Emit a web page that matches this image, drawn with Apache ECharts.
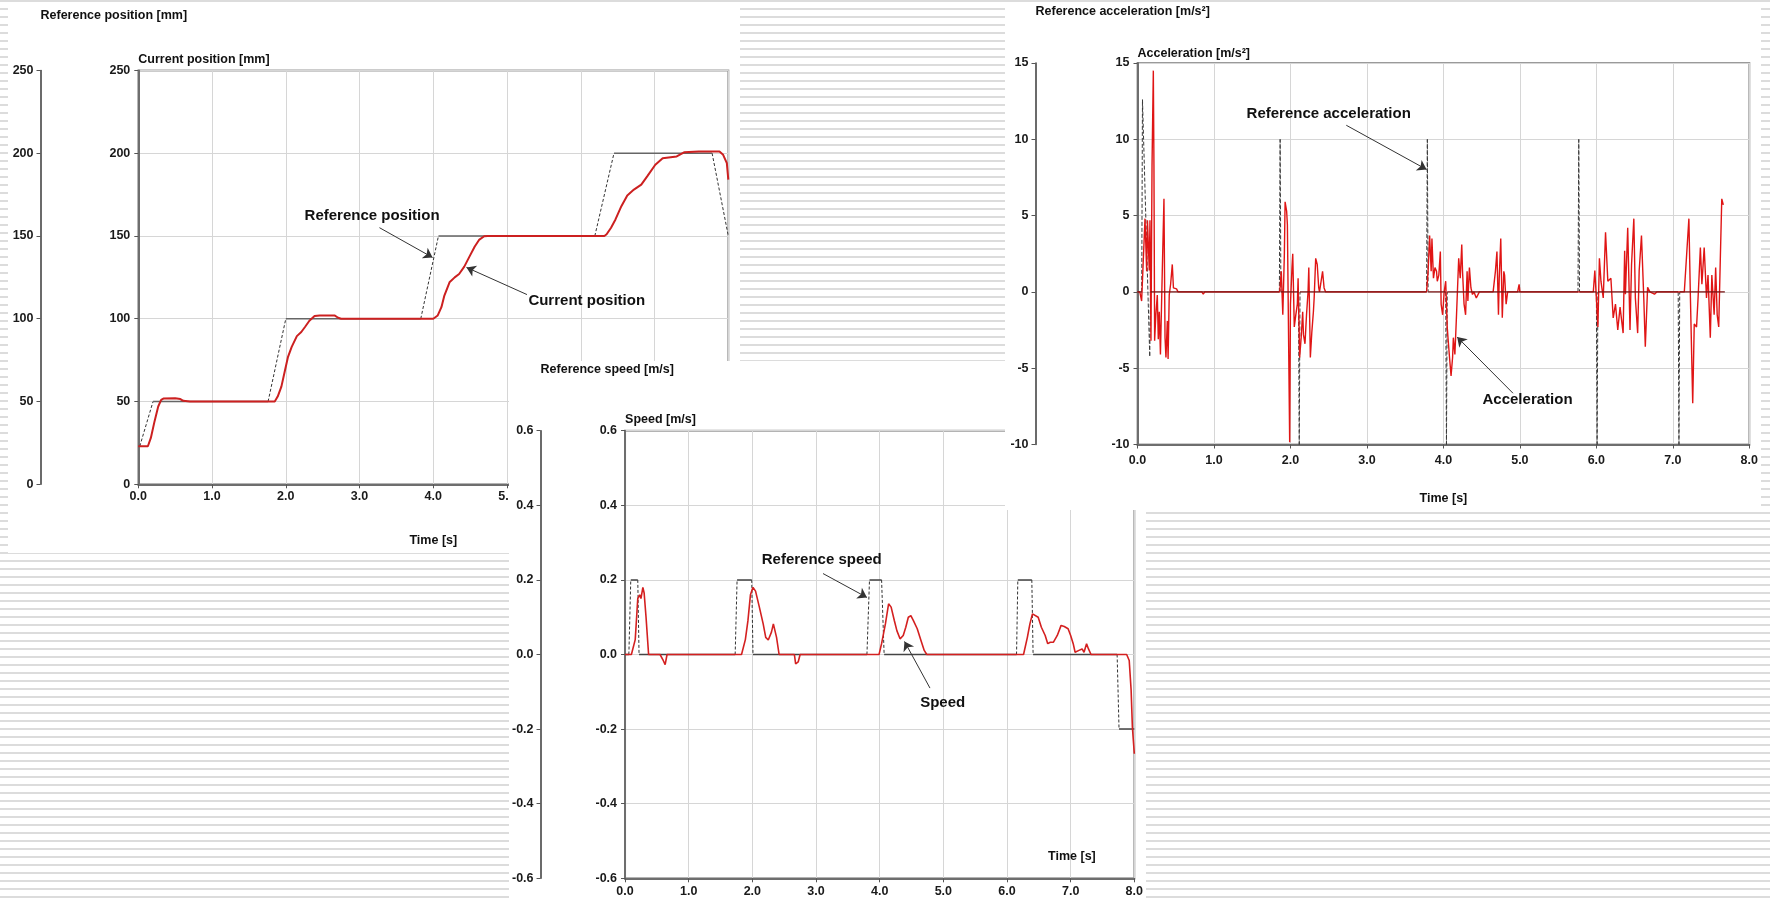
<!DOCTYPE html>
<html>
<head>
<meta charset="utf-8">
<title>Position, speed and acceleration</title>
<script src="https://cdn.jsdelivr.net/npm/echarts@6/dist/echarts.min.js"></script>
<style>
  html, body { margin: 0; padding: 0; }
  body {
    width: 1770px; height: 901px; position: relative; overflow: hidden;
    background: repeating-linear-gradient(to bottom, #dcdcdc 0px, #dcdcdc 2px, #fff 2px, #fff 8px);
  }
  .panel { position: absolute; background: #fff; }
  #pos { left: 8px; top: 2px; width: 732px; height: 551px; z-index: 1; }
  #spd { left: 509px; top: 361px; width: 637px; height: 540px; z-index: 2; }
  #acc { left: 1005px; top: 2px; width: 756px; height: 508px; z-index: 3; }
</style>
</head>
<body>
<div class="panel" id="pos"></div>
<div class="panel" id="spd"></div>
<div class="panel" id="acc"></div>
<script>
// ---- data: [time s, value] ----
const posReference = [[0, 23], [0.02, 23], [0.2, 50], [1.76, 50], [2.0, 100], [3.83, 100], [4.07, 150],
  [6.19, 150], [6.45, 200], [7.78, 200], [8.0, 150]];
const posCurrent = [[0, 23], [0.13, 23], [0.17, 28], [0.22, 38], [0.27, 47], [0.31, 51], [0.34, 51.8], [0.5, 52],
  [0.57, 51.5], [0.61, 50.4], [0.7, 50], [1.85, 50], [1.89, 53], [1.94, 59], [1.99, 69], [2.03, 77], [2.08, 83],
  [2.15, 89.5], [2.21, 92], [2.26, 95], [2.32, 98.8], [2.39, 101.6], [2.46, 102], [2.66, 102], [2.71, 100.6],
  [2.75, 100], [4.0, 100], [4.06, 102], [4.11, 107], [4.15, 114], [4.22, 122], [4.29, 125], [4.35, 127],
  [4.42, 131.5], [4.49, 137.5], [4.56, 143.5], [4.62, 147.6], [4.69, 149.8], [4.74, 150], [6.32, 150],
  [6.35, 151], [6.41, 155], [6.47, 160], [6.55, 168], [6.63, 174.5], [6.72, 178], [6.82, 181], [6.9, 186],
  [7.01, 193], [7.11, 197], [7.3, 198], [7.4, 200.5], [7.6, 201], [7.88, 201], [7.93, 199], [7.98, 194], [8.0, 184]];

const speedReference = [[0, 0], [0.06, 0], [0.09, 0.2], [0.2, 0.2], [0.22, 0], [1.73, 0], [1.76, 0.2], [1.99, 0.2],
  [2.01, 0], [3.8, 0], [3.84, 0.2], [4.03, 0.2], [4.07, 0], [6.15, 0], [6.17, 0.2], [6.39, 0.2], [6.41, 0],
  [7.73, 0], [7.76, -0.2], [8.0, -0.2]];
const speedCurrent = [[0, 0], [0.1, 0], [0.16, 0.04], [0.2, 0.15], [0.23, 0.16], [0.25, 0.15], [0.28, 0.18],
  [0.3, 0.165], [0.33, 0.1], [0.37, 0], [0.55, 0], [0.6, -0.016], [0.63, -0.027], [0.66, 0], [1.83, 0],
  [1.89, 0.04], [1.93, 0.09], [1.97, 0.16], [2.01, 0.18], [2.05, 0.17], [2.11, 0.127], [2.17, 0.082],
  [2.21, 0.046], [2.25, 0.039], [2.3, 0.06], [2.33, 0.082], [2.38, 0.046], [2.42, 0], [2.66, 0], [2.68, -0.025],
  [2.72, -0.02], [2.75, 0], [3.99, 0], [4.03, 0.029], [4.09, 0.082], [4.14, 0.136], [4.18, 0.127], [4.23, 0.091],
  [4.27, 0.064], [4.32, 0.042], [4.37, 0.051], [4.41, 0.073], [4.45, 0.1], [4.49, 0.104], [4.53, 0.091],
  [4.59, 0.069], [4.65, 0.037], [4.7, 0.011], [4.74, 0], [4.83, 0], [4.85, 0.004], [4.87, 0], [6.26, 0],
  [6.32, 0.046], [6.36, 0.082], [6.4, 0.109], [6.43, 0.113], [6.49, 0.1], [6.54, 0.073], [6.6, 0.051],
  [6.64, 0.029], [6.68, 0.033], [6.73, 0.033], [6.79, 0.051], [6.85, 0.078], [6.9, 0.075], [6.96, 0.069],
  [7.0, 0.051], [7.04, 0.029], [7.07, 0.006], [7.13, 0.011], [7.18, 0.015], [7.21, 0.006], [7.25, 0.029],
  [7.28, 0.015], [7.32, 0], [7.88, 0], [7.92, -0.016], [7.95, -0.096], [7.97, -0.195], [8.0, -0.266]];

const accReference = [[0, 0], [0.055, 0], [0.065, 12.6], [0.16, -4.2], [0.17, 0],
  [1.855, 0], [1.865, 10], [1.875, 0], [2.105, 0], [2.115, -10], [2.125, 0], [3.78, 0], [3.79, 10], [3.8, 0],
  [4.03, 0], [4.04, -10], [4.05, 0], [5.76, 0], [5.77, 10], [5.78, 0], [6.0, 0], [6.01, -10], [6.02, 0],
  [7.07, 0], [7.08, -10], [7.09, 0], [7.68, 0]];
const accCurrent = [[0, 0], [0.03, 0], [0.054, -0.6], [0.076, -0.6], [0.098, 4.8], [0.12, 1.35], [0.13, 4.7],
  [0.154, 1.4], [0.163, 4.7], [0.176, -3.2], [0.19, 8.3], [0.207, 14.5], [0.215, 8.3], [0.224, -3.2],
  [0.24, -1.5], [0.259, -0.2], [0.272, -3.1], [0.285, -1.3], [0.3, -4.1], [0.324, 1.35], [0.346, 6.1],
  [0.36, -3], [0.372, -4.3], [0.39, -1.9], [0.4, -4.4], [0.415, -0.2], [0.433, 0.5], [0.455, 1.8], [0.47, 0.26],
  [0.49, 0.15], [0.51, 0.2], [0.53, 0], [0.84, 0], [0.86, -0.15], [0.88, 0],
  [1.86, 0], [1.88, 1.35], [1.9, -1.5], [1.92, 2.4], [1.93, 5.9], [1.95, 5.3], [1.96, 4.4], [1.98, -5.2],
  [1.99, -9.85], [2.0, -0.8], [2.02, 1.6], [2.03, 2.5], [2.05, -2.3], [2.07, -1.5], [2.09, -0.8], [2.1, 0.9],
  [2.12, -4.3], [2.14, -3.0], [2.16, -1.3], [2.17, -2.8], [2.19, -3.4], [2.21, -1.5], [2.23, 0], [2.24, 1.6],
  [2.26, -4.3], [2.28, -2.6], [2.3, -1.3], [2.31, -0.4], [2.33, 2.2], [2.35, 1.8], [2.37, 0.26], [2.38, 0],
  [2.42, 1.35], [2.44, 0.26], [2.46, 0],
  [3.78, 0], [3.8, 1.35], [3.82, 3.7], [3.84, 1.35], [3.85, 3.5], [3.87, 0.9], [3.89, 1.6], [3.91, 1.35],
  [3.92, 0.7], [3.94, 1.1], [3.96, 2.65], [3.97, -0.8], [3.99, -1.5], [4.01, 0], [4.03, 0.7], [4.05, -2.3],
  [4.06, -3.0], [4.08, -4.3], [4.1, -5.5], [4.12, -4.3], [4.13, -3.0], [4.15, -4.1], [4.17, -1.7], [4.18, -0.4],
  [4.2, 2.2], [4.22, 0.9], [4.24, 3.1], [4.25, 1.35], [4.27, -0.8], [4.29, -1.5], [4.31, 1.35], [4.32, -0.6],
  [4.34, 1.6], [4.36, 0.26], [4.38, -0.17], [4.4, 0], [4.43, -0.4], [4.47, 0],
  [4.65, 0], [4.68, 1.35], [4.7, 2.65], [4.72, -1.5], [4.73, 0.9], [4.75, 3.5], [4.77, -1.7], [4.79, 1.35],
  [4.8, 1.1], [4.82, -0.8], [4.84, 0], [4.97, 0], [4.99, 0.5], [5.0, 0],
  [5.96, 0], [5.98, 1.4], [6.0, -0.4], [6.02, -2.3], [6.04, 2.2], [6.06, 0.7], [6.09, -0.4], [6.12, 3.9],
  [6.15, 0.7], [6.19, 0.9], [6.22, -1.7], [6.25, -0.8], [6.28, -2.5], [6.31, -1.0], [6.35, -2.7], [6.37, 2.7],
  [6.38, -0.15], [6.41, 4.2], [6.44, -2.5], [6.46, 1.8], [6.49, 4.8], [6.51, -0.4], [6.54, -2.7], [6.56, 1.4],
  [6.59, 3.7], [6.62, -0.4], [6.64, -3.6], [6.67, 0.3], [6.7, 0], [6.76, -0.15], [6.79, 0],
  [7.15, 0], [7.18, 2.4], [7.21, 4.8], [7.23, -0.4], [7.26, -7.3], [7.28, -2.1], [7.31, -2.3], [7.33, -0.4],
  [7.36, 2.9], [7.38, 0.5], [7.41, 2.9], [7.44, -0.4], [7.46, 1.1], [7.49, -3.0], [7.51, 1.1], [7.54, -1.5],
  [7.56, 1.6], [7.58, -1.5], [7.6, -2.3], [7.62, 2.0], [7.64, 6.1], [7.66, 5.7]];

// tick values of the axes: [min, max, step]
const timeTicks = [0, 8, 1];
const posTicks = [0, 250, 50];
const speedTicks = [-0.6, 0.6, 0.2];
const accTicks = [-10, 15, 5];

// annotations (text centre, arrow start -> arrow tip), in data units
const posNotes = [
  { text: "Reference position", at: [3.17, 162], from: [3.27, 155], to: [3.99, 137] },
  { text: "Current position", at: [6.08, 111], from: [5.27, 114.6], to: [4.45, 131] },
];
const speedNotes = [
  { text: "Reference speed", at: [3.09, 0.254], from: [3.11, 0.217], to: [3.8, 0.153] },
  { text: "Speed", at: [4.99, -0.129], from: [4.79, -0.09], to: [4.39, 0.035] },
];
const accNotes = [
  { text: "Reference acceleration", at: [2.5, 11.64], from: [2.73, 10.92], to: [3.78, 8.02] },
  { text: "Acceleration", at: [5.1, -7.07], from: [4.91, -6.64], to: [4.18, -2.96] },
];

const FONT = '"Liberation Sans", Arial, sans-serif';
const RED = "#d42020";

// split a reference curve into flat pieces (solid) and transitions (dashed)
function splitRef(pts) {
  const flat = [], ramp = [];
  for (let i = 0; i < pts.length - 1; i++) {
    const a = pts[i], b = pts[i + 1];
    const target = a[1] === b[1] ? flat : ramp;
    target.push(a, b, [b[0], "-"]);
  }
  return { flat, ramp };
}

function fmt(d) {
  return (v) => (d ? v.toFixed(d) : String(v));
}

const tickText = { fontFamily: FONT, fontWeight: "bold", fontSize: 12.5, color: "#1a1a1a" };

function xAxisOf(name, nameGap, labelMargin) {
  return {
    type: "value", min: timeTicks[0], max: timeTicks[1], interval: timeTicks[2],
    name: name, nameLocation: "middle", nameGap: nameGap,
    nameTextStyle: { fontFamily: FONT, fontWeight: "bold", fontSize: 12.5, color: "#111" },
    axisLine: { show: true, onZero: false, lineStyle: { color: "#6e6e6e", width: 2 } },
    axisTick: { show: true, length: 4, lineStyle: { color: "#555" } },
    axisLabel: Object.assign({ formatter: fmt(1), margin: labelMargin }, tickText),
    splitLine: { show: true, lineStyle: { color: "#d6d6d6", width: 1 } },
  };
}

function yAxesOf(ticks, digits, mainName, mainGap, refName, refGap, offset) {
  const base = {
    type: "value", min: ticks[0], max: ticks[1], interval: ticks[2], position: "left",
    nameLocation: "end",
    nameTextStyle: { fontFamily: FONT, fontWeight: "bold", fontSize: 12.5, color: "#111", align: "left", verticalAlign: "middle" },
    axisTick: { show: true, length: 4, lineStyle: { color: "#555" } },
  };
  return [
    Object.assign({}, base, {
      name: mainName, nameGap: mainGap,
      axisLine: { show: true, onZero: false, lineStyle: { color: "#6e6e6e", width: 2 } },
      axisLabel: Object.assign({ formatter: fmt(digits), margin: 8 }, tickText),
      splitLine: { show: true, lineStyle: { color: "#d6d6d6", width: 1 } },
    }),
    Object.assign({}, base, {
      name: refName, nameGap: refGap, offset: offset,
      axisLine: { show: true, onZero: false, lineStyle: { color: "#3a3a3a", width: 1.5 } },
      axisLabel: Object.assign({ formatter: fmt(digits), margin: 7 }, tickText),
      splitLine: { show: false },
    }),
  ];
}

function noteMarks(notes, size) {
  return {
    silent: true, symbol: "rect", symbolSize: 1, itemStyle: { color: "rgba(0,0,0,0)" },
    label: { show: true, position: "inside", formatter: "{b}", color: "#111", fontFamily: FONT, fontWeight: "bold", fontSize: size },
    data: notes.map((n) => ({ name: n.text, coord: n.at })),
  };
}

function arrowMarks(notes) {
  return {
    silent: true, symbol: ["none", "arrow"], symbolSize: 9,
    lineStyle: { color: "#333", width: 1, type: "solid" },
    label: { show: false }, emphasis: { disabled: true },
    data: notes.filter((n) => n.from).map((n) => [{ coord: n.from }, { coord: n.to }]),
  };
}

function lineSeries(data, color, width, type, z) {
  return {
    type: "line", data: data, showSymbol: false, symbol: "none", z: z,
    lineStyle: { color: color, width: width, type: type },
    emphasis: { disabled: true }, connectNulls: false,
  };
}

function makeChart(el, grid, xAx, yAx, series) {
  const chart = echarts.init(document.getElementById(el), null, { renderer: "canvas" });
  chart.setOption({
    animation: false,
    backgroundColor: "#fff",
    grid: Object.assign({ show: true, borderColor: "#9a9a9a", borderWidth: 2, containLabel: false }, grid),
    xAxis: xAx,
    yAxis: yAx,
    series: series,
  });
  return chart;
}

// ---- position ----
const posRef = splitRef(posReference);
const posRed = lineSeries(posCurrent, "#cc2020", 2, "solid", 4);
posRed.markPoint = noteMarks(posNotes, 15);
posRed.markLine = arrowMarks(posNotes);
makeChart("pos", { left: 130.3, top: 68.4, width: 591.3, height: 413.9 },
  xAxisOf("Time [s]", 50, 6),
  yAxesOf(posTicks, 0, "Current position [mm]", 10.4, "Reference position [mm]", 54.4, 97.8),
  [
    lineSeries(posRef.ramp, "#333", 1, [3, 2], 2),
    lineSeries(posRef.flat, "#666", 1.5, "solid", 3),
    posRed,
  ]);

// ---- speed ----
const spdRef = splitRef(speedReference);
const spdRed = lineSeries(speedCurrent, RED, 1.6, "solid", 4);
spdRed.markPoint = noteMarks(speedNotes, 15);
spdRed.markLine = arrowMarks(speedNotes);
const spdTime = lineSeries([], "#000", 0, "solid", 5);
spdTime.markPoint = noteMarks([{ text: "Time [s]", at: [7.02, -0.543] }], 12.5);
makeChart("spd", { left: 113.7, top: 69.7, width: 512.6, height: 447.6 },
  xAxisOf("", 20, 7),
  yAxesOf(speedTicks, 1, "Speed [m/s]", 11.3, "Reference speed [m/s]", 61, 84.5),
  [
    lineSeries(spdRef.ramp, "#333", 1, [3, 2], 2),
    lineSeries(spdRef.flat, "#444", 1.5, "solid", 3),
    spdRed,
    spdTime,
  ]);

// ---- acceleration ----
const accRef = splitRef(accReference);
const accRed = lineSeries(accCurrent, "#e01515", 1.4, "solid", 3);
accRed.markPoint = noteMarks(accNotes, 15);
accRed.markLine = arrowMarks(accNotes);
makeChart("acc", { left: 132.5, top: 61, width: 613, height: 383.4 },
  xAxisOf("Time [s]", 47.5, 10),
  yAxesOf(accTicks, 0, "Acceleration [m/s²]", 9.3, "Reference acceleration [m/s²]", 51.4, 102),
  [
    lineSeries(accRef.ramp, "#3a3a3a", 1, [4, 2], 2),
    accRed,
    lineSeries(accRef.flat, "#7a1010", 1.3, "solid", 4),
  ]);
</script>
</body>
</html>
